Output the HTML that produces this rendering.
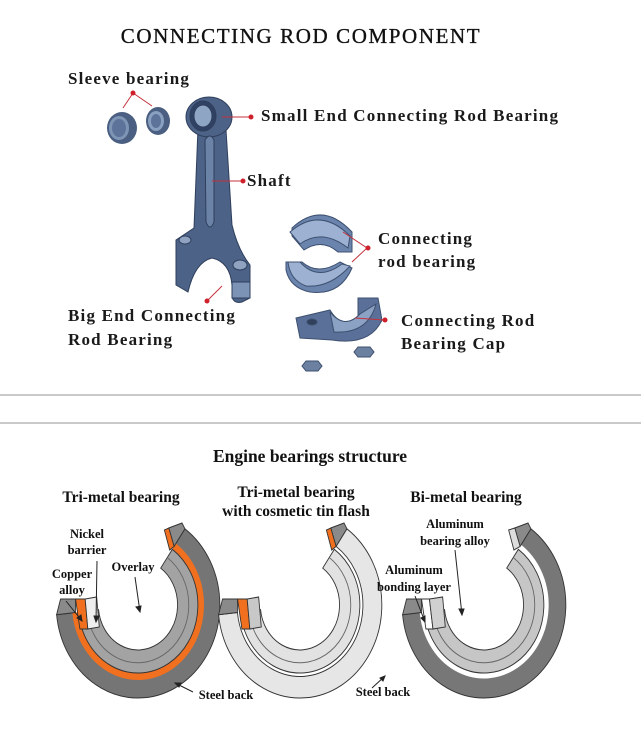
<!DOCTYPE html>
<html><head><meta charset="utf-8"><style>
html,body{margin:0;padding:0;background:#fff}
svg{display:block}
.t{font-family:"Liberation Serif",serif;fill:#111}
.l{font-family:"Liberation Serif",serif;font-weight:bold;font-size:17px;fill:#1a1a1a;letter-spacing:1.2px}
.b{font-family:"Liberation Serif",serif;font-weight:bold;fill:#111}
</style></head><body>
<svg width="641" height="738" viewBox="0 0 641 738">
<rect width="641" height="738" fill="#fff"/>
<text class="t" x="301" y="43" font-size="21" text-anchor="middle" letter-spacing="1.6" stroke="#111" stroke-width="0.35">CONNECTING ROD COMPONENT</text>

<g>
<ellipse cx="122" cy="128" rx="15" ry="16" fill="#4a5f82"/>
<ellipse cx="119" cy="128" rx="10" ry="12" fill="#7f95b5"/>
<ellipse cx="119" cy="128" rx="7" ry="9" fill="#5d739a"/>
<ellipse cx="158" cy="121" rx="12" ry="14" fill="#4a5f82"/>
<ellipse cx="156" cy="121" rx="8" ry="10" fill="#8aa0c0"/>
<ellipse cx="156" cy="121" rx="5" ry="7" fill="#5d739a"/>
</g>

<g stroke="#2f3f5c" stroke-width="1">
<path d="M198 128 L194 228 L176 240 L176 285 L188 292 Q195 262 212 258 Q230 262 232 285 L232 297 Q234 304 242 302 L250 298 L250 265 Q238 250 232 225 L226 130 Z" fill="#4c6287"/>
<ellipse cx="209" cy="117" rx="23" ry="20" fill="#4c6287"/>
<ellipse cx="203" cy="116" rx="13" ry="15" fill="#2f4264"/>
<ellipse cx="203" cy="116" rx="9" ry="11" fill="#8fa5c4"/>
<path d="M205 140 L206 222 Q210 232 214 222 L214 140 Q210 132 205 140Z" fill="#6c83a8"/>
<ellipse cx="185" cy="240" rx="6" ry="4" fill="#8fa3c0"/>
<ellipse cx="240" cy="265" rx="7" ry="5" fill="#8fa3c0"/>
<path d="M232 282 L250 282 L250 298 L232 298Z" fill="#7c93b6"/>
</g>

<g stroke="#3d5070" stroke-width="1">
<path d="M292 228 Q322 200 352 232 L352 252 L338 252 Q322 238 304 250 L292 236 Z" fill="#6b84ad"/>
<path d="M290 232 Q320 206 350 236 L348 248 Q322 228 300 244 Z" fill="#9db2d2"/>
<path d="M286 262 L302 262 Q318 276 340 262 L352 268 Q340 296 310 292 Q290 288 286 270Z" fill="#6b84ad"/>
<path d="M288 262 L300 262 Q318 282 342 264 L350 266 Q330 288 306 286 Q290 280 288 262Z" fill="#9db2d2"/>
</g>
<g stroke="#3d5070" stroke-width="1">
<path d="M296 318 L330 310 Q342 330 358 316 L358 298 L378 298 L382 320 Q370 346 332 340 L300 338 Z" fill="#5a7098"/>
<path d="M330 312 Q345 330 360 314 L376 304 Q368 334 334 332 Z" fill="#8ca2c4"/>
<ellipse cx="312" cy="322" rx="5" ry="3" fill="#2f3f5c"/>
<path d="M306 361 L318 361 L322 366 L318 371 L306 371 L302 366Z" fill="#6c80a0"/>
<path d="M358 347 L370 347 L374 352 L370 357 L358 357 L354 352Z" fill="#6c80a0"/>
</g>

<g stroke="#c4323c" stroke-width="1" fill="none">
<path d="M133 93 L123 108 M133 93 L152 106"/>
<path d="M222 117 L250 117"/>
<path d="M212 181 L242 181"/>
<path d="M343 232 L367 248 L352 262"/>
<path d="M355 318 L383 320"/>
<path d="M208 300 L222 286"/>
</g>
<g fill="#d0202c">
<circle cx="133" cy="93" r="2.5"/><circle cx="251" cy="117" r="2.5"/><circle cx="243" cy="181" r="2.5"/>
<circle cx="368" cy="248" r="2.5"/><circle cx="385" cy="320" r="2.5"/><circle cx="207" cy="301" r="2.5"/>
</g>

<text class="l" x="68" y="84">Sleeve bearing</text>
<text class="l" x="261" y="121">Small End Connecting Rod Bearing</text>
<text class="l" x="247" y="186">Shaft</text>
<text class="l" x="378" y="244">Connecting</text>
<text class="l" x="378" y="267">rod bearing</text>
<text class="l" x="68" y="321">Big End Connecting</text>
<text class="l" x="68" y="345">Rod Bearing</text>
<text class="l" x="401" y="326">Connecting Rod</text>
<text class="l" x="401" y="349">Bearing Cap</text>

<rect x="0" y="394" width="641" height="2" fill="#c9c9c9"/>
<rect x="0" y="422" width="641" height="2" fill="#c9c9c9"/>

<text class="b" x="310" y="462" font-size="17.5" text-anchor="middle">Engine bearings structure</text>
<text class="b" x="121" y="502" font-size="15.5" text-anchor="middle">Tri-metal bearing</text>
<text class="b" x="296" y="497" font-size="15.5" text-anchor="middle">Tri-metal bearing</text>
<text class="b" x="296" y="516" font-size="15.5" text-anchor="middle">with cosmetic tin flash</text>
<text class="b" x="466" y="502" font-size="15.5" text-anchor="middle">Bi-metal bearing</text>

<g transform="translate(138,605) scale(0.88,1)" fill="none">
<path d="M-92.5 9.7 A93 93 0 1 0 53.3 -76.2 L41 -58.6 A71.5 71.5 0 1 1 -71.1 7.5Z" fill="#757575" stroke="#333" stroke-width="1"/>
<path d="M-71.1 7.5 A71.5 71.5 0 1 0 41 -58.6" stroke="#f07020" stroke-width="7"/>
<path d="M-67.6 7.1 A68 68 0 1 0 39 -55.7 L25.8 -36.9 A45 45 0 1 1 -44.8 4.7Z" fill="#a3a3a3" stroke="#333" stroke-width="1"/>
<path d="M-58 6 A58 58 0 1 0 33.3 -47.5" stroke="#666" stroke-width="1"/>
<path d="M-92.5 9.7 L-88 -6 L-71 -6 L-71.1 7.5Z" fill="#8a8a8a" stroke="#333"/>
<path d="M-71 -6 L-60 -6 L-57 24 L-66 24Z" fill="#f07020" stroke="#333"/>
<path d="M-60 -6 L-47 -8 L-44 22 L-57 24Z" fill="#eee" stroke="#333"/>
<path d="M53.3 -76.2 L50 -82 L35 -77 L41 -58.6Z" fill="#8a8a8a" stroke="#333"/>
<path d="M41 -58.6 L35 -77 L30 -75 L36 -55Z" fill="#f07020" stroke="#333"/>
</g>
<g transform="translate(300,605) scale(0.88,1)" fill="none">
<path d="M-92.5 9.7 A93 93 0 1 0 53.3 -76.2 L41 -58.6 A71.5 71.5 0 1 1 -71.1 7.5Z" fill="#e6e6e6" stroke="#333" stroke-width="1"/>
<path d="M-67.6 7.1 A68 68 0 1 0 39 -55.7 L25.8 -36.9 A45 45 0 1 1 -44.8 4.7Z" fill="#e2e2e2" stroke="#333" stroke-width="1"/>
<path d="M-58 6 A58 58 0 1 0 33.3 -47.5" stroke="#666" stroke-width="1"/>
<path d="M-92.5 9.7 L-88 -6 L-71 -6 L-71.1 7.5Z" fill="#8a8a8a" stroke="#333"/>
<path d="M-71 -6 L-60 -6 L-57 24 L-66 24Z" fill="#f07020" stroke="#333"/>
<path d="M-60 -6 L-47 -8 L-44 22 L-57 24Z" fill="#c8c8c8" stroke="#333"/>
<path d="M53.3 -76.2 L50 -82 L35 -77 L41 -58.6Z" fill="#8a8a8a" stroke="#333"/>
<path d="M41 -58.6 L35 -77 L30 -75 L36 -55Z" fill="#f07020" stroke="#333"/>
</g>
<g transform="translate(484,605) scale(0.88,1)" fill="none">
<path d="M-92.5 9.7 A93 93 0 1 0 53.3 -76.2 L41 -58.6 A71.5 71.5 0 1 1 -71.1 7.5Z" fill="#777" stroke="#333" stroke-width="1"/>
<path d="M-71.1 7.5 A71.5 71.5 0 1 0 41 -58.6" stroke="#fff" stroke-width="4"/>
<path d="M-67.6 7.1 A68 68 0 1 0 39 -55.7 L25.8 -36.9 A45 45 0 1 1 -44.8 4.7Z" fill="#c6c6c6" stroke="#333" stroke-width="1"/>
<path d="M-58 6 A58 58 0 1 0 33.3 -47.5" stroke="#666" stroke-width="1"/>
<path d="M-92.5 9.7 L-88 -6 L-71 -6 L-71.1 7.5Z" fill="#8a8a8a" stroke="#333"/>
<path d="M-71 -6 L-62 -6 L-58 24 L-66 24Z" fill="#fff" stroke="#333"/>
<path d="M-62 -6 L-47 -8 L-44 22 L-58 24Z" fill="#d0d0d0" stroke="#333"/>
<path d="M53.3 -76.2 L50 -82 L35 -77 L41 -58.6Z" fill="#8a8a8a" stroke="#333"/>
<path d="M41 -58.6 L35 -77 L28 -75 L34 -55Z" fill="#ddd" stroke="#333"/>
</g>

<g class="b" font-size="12.5" text-anchor="middle">
<text x="87" y="538">Nickel</text><text x="87" y="554">barrier</text>
<text x="72" y="578">Copper</text><text x="72" y="594">alloy</text>
<text x="133" y="571">Overlay</text>
<text x="226" y="699">Steel back</text>
<text x="455" y="528">Aluminum</text><text x="455" y="545">bearing alloy</text>
<text x="414" y="574">Aluminum</text><text x="414" y="591">bonding layer</text>
<text x="383" y="696">Steel back</text>
</g>
<g stroke="#222" stroke-width="1" fill="#222">
<path d="M66 601 L82 621"/><path d="M82 621 l-5 -3 l4 -3z"/>
<path d="M97 561 L96 622"/><path d="M96 622 l-2 -6 l5 0z"/>
<path d="M135 577 L140 612"/><path d="M140 612 l-4 -5 l5 -1z"/>
<path d="M193 692 L175 683"/><path d="M175 683 l6 0 l-2 4z"/>
<path d="M455 550 L462 615"/><path d="M462 615 l-3 -6 l5 0z"/>
<path d="M415 596 L425 622"/><path d="M425 622 l-4 -4 l4 -2z"/>
<path d="M372 688 L385 676"/><path d="M385 676 l-2 5 l-3 -3z"/>
</g>
</svg>
</body></html>
